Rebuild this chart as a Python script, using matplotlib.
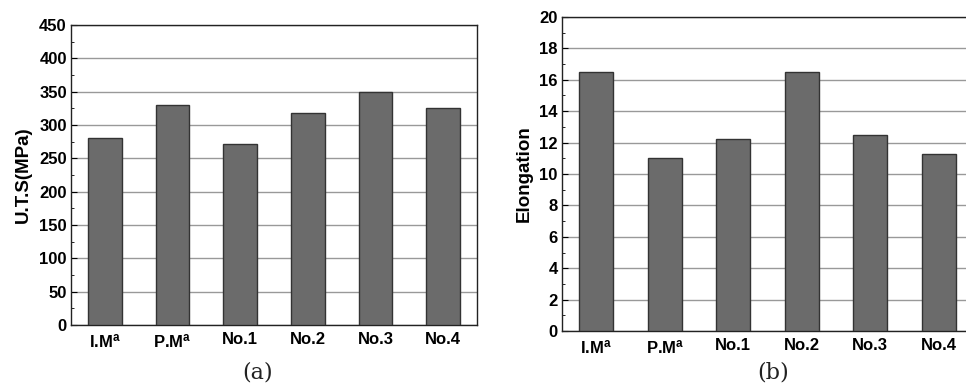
import matplotlib
matplotlib.use("Agg")
import matplotlib.pyplot as plt
from matplotlib.ticker import MultipleLocator

categories = [r"I.M$^{\mathbf{a}}$", r"P.M$^{\mathbf{a}}$", "No.1", "No.2", "No.3", "No.4"]
uts_values = [280, 330, 272, 318, 349, 325]
elong_values = [16.5, 11.0, 12.2, 16.5, 12.5, 11.3]

plt.rcParams['font.family'] = ['Liberation Sans', 'DejaVu Sans']
plt.rcParams['mathtext.fontset'] = 'custom'
plt.rcParams['mathtext.rm'] = 'Liberation Sans:bold'
plt.rcParams['mathtext.bf'] = 'Liberation Sans:bold'
plt.rcParams['mathtext.it'] = 'Liberation Sans:bold'

fig = plt.figure(figsize=(9.66, 3.88), dpi=100)
ax1 = fig.add_axes([71/966, 1-325/388, 406/966, 300/388])
ax2 = fig.add_axes([562/966, 1-331/388, 411/966, 314/388])

bar_color = '#6b6b6b'
edge = '#333333'

def style(ax, values, ymax, major, minor, ylabel):
    x = range(len(values))
    ax.set_axisbelow(True)
    ax.yaxis.grid(True, color='#999999', linewidth=1.0)
    ax.bar(x, values, width=0.5, color=bar_color, edgecolor=edge, linewidth=1.0, zorder=3)
    ax.set_xlim(-0.5, len(values) - 0.5)
    ax.set_ylim(0, ymax)
    ax.yaxis.set_major_locator(MultipleLocator(major))
    ax.yaxis.set_minor_locator(MultipleLocator(minor))
    ax.set_xticks(list(x))
    ax.set_xticklabels(categories, fontweight='bold', fontsize=12)
    ax.tick_params(axis='x', length=0, pad=5)
    ax.tick_params(axis='y', which='major', direction='in', length=4, labelsize=12, pad=3)
    ax.tick_params(axis='y', which='minor', direction='in', length=2.5)
    for lab in ax.get_yticklabels():
        lab.set_fontweight('bold')
    ax.set_ylabel(ylabel, fontweight='bold', fontsize=13.5, labelpad=5)
    for s in ax.spines.values():
        s.set_color('#222222')
        s.set_linewidth(1.0)

style(ax1, uts_values, 450, 50, 25, 'U.T.S(MPa)')
style(ax2, elong_values, 20, 2, 1, 'Elongation')

fig.text(258/966, 1-372/388, '(a)', fontsize=16, family='DejaVu Serif', ha='center', va='center', color='#222222')
fig.text(773/966, 1-372/388, '(b)', fontsize=16, family='DejaVu Serif', ha='center', va='center', color='#222222')

fig.savefig('out.png', dpi=100)
